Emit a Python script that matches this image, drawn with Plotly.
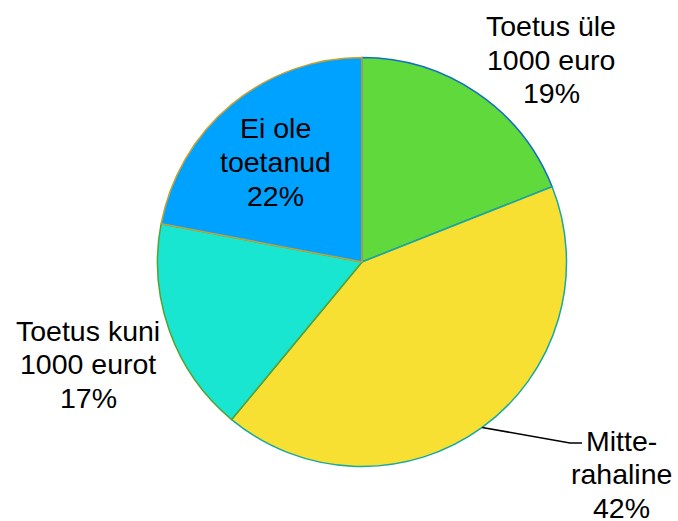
import math
import plotly.graph_objects as go

labels = [["Toetus üle", "1000 euro"], ["Mitte-", "rahaline"], ["Toetus kuni", "1000 eurot"], ["Ei ole", "toetanud"]]
values = [19, 42, 17, 22]
colors = ["#5FD93B", "#F8E033", "#19E6D0", "#00A2FF"]
border_colors = ["#1070C0", "#18A8A0", "#58A030", "#C8A030"]
# label anchor positions in pixels (centre of text block)
label_pos = [(551, 60), (621, 474), (88, 364), (275, 162)]

W, H = 678, 521
cx, cy, r = 362, 262, 204.5
LINE = 33.5
FONT = dict(family="Liberation Sans, Arial", size=28.5, color="black")

fig = go.Figure(go.Pie(
    labels=["<br>".join(l) for l in labels], values=values, sort=False,
    direction="clockwise", rotation=0,
    marker=dict(colors=colors, line=dict(color=border_colors, width=1.5)),
    textinfo="none", hoverinfo="label+percent", showlegend=False,
    domain=dict(x=[(cx - r) / W, (cx + r) / W], y=[1 - (cy + r) / H, 1 - (cy - r) / H]),
))

total = sum(values)
for lab, v, (px, py) in zip(labels, values, label_pos):
    lines = lab + [f"{round(100 * v / total)}%"]
    n = len(lines)
    for i, t in enumerate(lines):
        y = py + (i - (n - 1) / 2) * LINE
        fig.add_annotation(
            x=px / W, y=1 - y / H, xref="paper", yref="paper",
            text=t, showarrow=False, font=FONT,
            xanchor="center", yanchor="middle",
        )

# leader line for Mitte-rahaline
start = values[0]
mid = (start + values[1] / 2) / total * 2 * math.pi
ex = cx + r * math.sin(mid)
ey = cy - r * math.cos(mid)
fig.add_shape(
    type="path", xref="paper", yref="paper",
    path=f"M {ex / W},{1 - ey / H} L {570 / W},{1 - 443 / H} L {582 / W},{1 - 443 / H}",
    line=dict(color="black", width=1.5),
)

fig.update_layout(
    width=W, height=H, margin=dict(l=0, r=0, t=0, b=0),
    paper_bgcolor="white", plot_bgcolor="white",
)
fig.write_html("out.html", post_script="document.body.style.margin='0';",
               config={"displayModeBar": False})
